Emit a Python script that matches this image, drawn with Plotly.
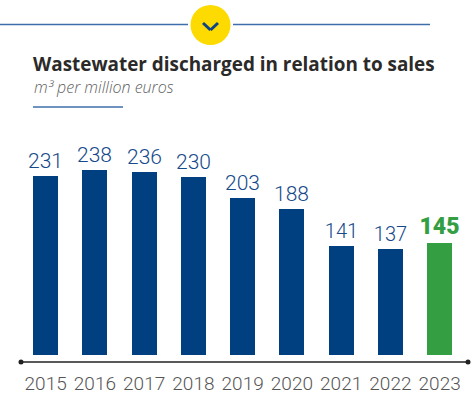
import plotly.graph_objects as go

years = ["2015", "2016", "2017", "2018", "2019", "2020", "2021", "2022", "2023"]
values = [231, 238, 236, 230, 203, 188, 141, 137, 145]
bar_colors = ["#004080"] * 8 + ["#339e42"]
label_colors = ["#15498a"] * 8 + ["#339e42"]
label_weights = [300] * 8 + [900]
label_sizes = [21, 21, 21, 21, 21, 21, 20, 20, 23]
title = "Wastewater discharged in relation to sales"
subtitle = "m³ per million euros"

W, H = 473, 394
L, R, T, B = 21, 468, 130, 362

def px(x):
    return (x - L) / (R - L)

def py(y):
    return (B - y) / (B - T)

fig = go.Figure(go.Bar(
    x=years, y=values, width=0.508,
    marker=dict(color=bar_colors, line_width=0),
    text=[str(v) for v in values],
    textposition="outside", cliponaxis=False, constraintext="none",
    textfont=dict(color=label_colors, family="Roboto", size=label_sizes, weight=label_weights),
    hoverinfo="x+y",
))

def line(x0, y0, x1, y1, color, width):
    return dict(type="line", xref="paper", yref="paper", x0=px(x0), y0=py(y0),
                x1=px(x1), y1=py(y1), line=dict(color=color, width=width))

def circle(cx, cy, r, color):
    return dict(type="circle", xref="paper", yref="paper", x0=px(cx - r), x1=px(cx + r),
                y0=py(cy - r), y1=py(cy + r), fillcolor=color, line_width=0)

blue = "#3f6fab"
shapes = [
    line(0, 24.5, 188, 24.5, blue, 1.3),
    line(233, 24.5, 430, 24.5, blue, 1.3),
    line(33, 107, 123, 107, blue, 1.3),
    circle(210.5, 25, 20, "#fedb00"),
    line(203, 23, 210.5, 30, "#0d4384", 3),
    line(210.5, 30, 218, 23, "#0d4384", 3),
    line(21, 362, 468, 362, "#222222", 1.5),
    circle(21, 362, 2.5, "#222222"),
    circle(468, 362, 2.5, "#222222"),
]

fig.update_layout(
    width=W, height=H, margin=dict(l=L, r=W - R, t=T, b=H - B, pad=0, autoexpand=False),
    paper_bgcolor="white", plot_bgcolor="white", showlegend=False,
    bargap=0, shapes=shapes,
    title=dict(text="<b>" + title + "</b>", x=33 / W, xanchor="left", xref="container",
               y=1 - 64 / H, yanchor="middle", yref="container", automargin=False,
               font=dict(family="Open Sans", size=18.9, color="#2b2a29")),
    annotations=[dict(text="<i>" + subtitle + "</i>", xref="paper", yref="paper",
                      x=px(32), y=py(87), xanchor="left", yanchor="middle", showarrow=False,
                      font=dict(family="Open Sans", size=16, color="#5f5f5f", weight=300))],
)
fig.update_xaxes(type="category", range=[-0.5, 8.576], showline=False, showgrid=False,
                 zeroline=False, automargin=False, ticks="outside", ticklen=4,
                 tickcolor="rgba(0,0,0,0)",
                 tickfont=dict(family="Roboto", size=19, color="#555555", weight=300))
fig.update_yaxes(range=[-9, 290], visible=False, automargin=False)
fig.write_html("out.html", config=dict(displayModeBar=False),
               post_script="document.body.style.margin='0';")
